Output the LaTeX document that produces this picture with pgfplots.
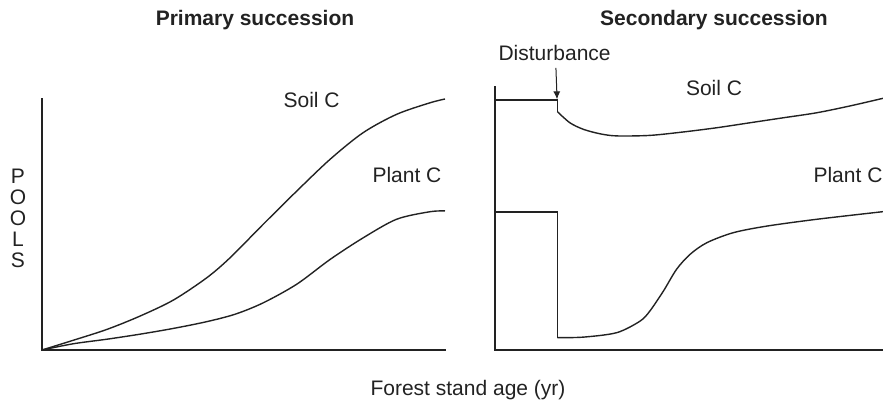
\documentclass[border=0pt]{standalone}
\usepackage{pgfplots}
\pgfplotsset{compat=1.18}
\usepackage{fontspec}
\setmainfont{Liberation Sans}
\usetikzlibrary{arrows.meta}
\definecolor{ink}{HTML}{222222}
\begin{document}
\begin{tikzpicture}
\path[use as bounding box] (0,0) rectangle (441.5pt,201.5pt);
\pgfplotsset{
  panel/.style={
    anchor=south west, scale only axis,
    xmin=0, xmax=100, ymin=0, ymax=100,
    axis lines=left,
    axis line style={-, line width=0.9pt, ink, line cap=rect},
    xtick=\empty, ytick=\empty, clip=false,
    every axis plot/.append style={line width=0.7pt, ink, no markers},
  }
}
% Primary succession
\begin{axis}[panel, at={(21pt,26.5pt)}, width=201.5pt, height=125.5pt]
\addplot[smooth] coordinates {(0,0) (7.8,3.9) (16.1,8.2) (24.3,13.5) (32.6,19.9) (40.9,28.8) (46.7,36.8) (54.9,50.1) (63.2,63.3) (71.5,76.0) (79.7,86.6) (88.0,93.9) (96.3,98.5) (100,100)};
\addplot[smooth] coordinates {(0,0) (7.8,2.5) (16.1,4.3) (24.3,6.3) (32.6,8.6) (40.9,11.3) (48,14.3) (54.9,18.8) (63.2,26.2) (71.5,36.1) (79.7,44.7) (88.0,52.1) (96.3,55.1) (100,55.4)};
\end{axis}
% Secondary succession
\begin{axis}[panel, at={(247.5pt,26.5pt)}, width=194pt, height=131.5pt]
\addplot[sharp plot] coordinates {(0,95.1) (16.1,95.1) (16.1,90.6)};
\addplot[smooth] coordinates {(16.1,90.6) (19.3,86.4) (22.8,83.9) (27.1,82.2) (31.4,81.4) (39.9,81.6) (48.5,82.9) (57.1,84.5) (65.7,86.4) (74.3,88.3) (82.9,90.2) (91.5,92.8) (100,95.7)};
\addplot[sharp plot] coordinates {(0,52.4) (16.1,52.4) (16.1,4.7)};
\addplot[smooth] coordinates {(16.1,4.7) (22.8,4.9) (31.4,6.6) (37.4,11.0) (39.9,14.8) (43.4,22.4) (46.8,30.7) (50.3,36.4) (54.6,40.8) (61.4,44.6) (70,47.1) (82.9,49.7) (100,52.6)};
\draw[-{Latex[length=4pt,width=3.5pt]}, line width=0.5pt, ink] (axis cs:15.7,107.3) -- (axis cs:16.0,95.3);
\end{axis}
% texts
\begin{scope}[every node/.style={text=ink, inner sep=0pt, anchor=base, font=\fontsize{10.5}{12}\selectfont}]
\node at (127.5pt,189pt) {\bfseries Primary succession};
\node at (357pt,189pt) {\bfseries Secondary succession};
\node at (234pt,3.75pt) {Forest stand age (yr)};
\node at (9pt,110pt) {P};
\node at (9pt,99.5pt) {O};
\node at (9pt,89pt) {O};
\node at (9pt,78.5pt) {L};
\node at (9pt,68pt) {S};
\node at (155.8pt,148pt) {Soil C};
\node at (203.5pt,110.5pt) {Plant C};
\node at (357pt,154pt) {Soil C};
\node at (424pt,110.5pt) {Plant C};
\node at (277.3pt,171.2pt) {Disturbance};
\end{scope}
\end{tikzpicture}
\end{document}
